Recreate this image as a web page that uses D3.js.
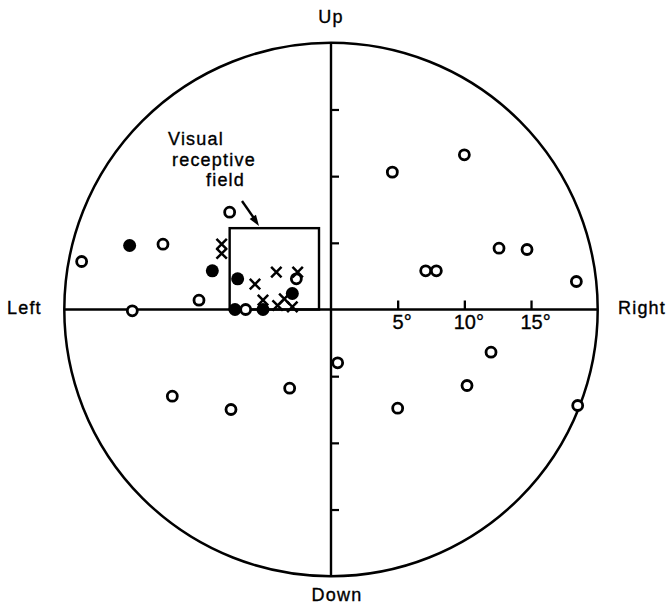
<!DOCTYPE html>
<html>
<head>
<meta charset="utf-8">
<script src="https://cdn.jsdelivr.net/npm/d3@7"></script>
<style>
  html, body { margin: 0; padding: 0; background: #fff; }
  svg { display: block; }
  text { font-family: "Liberation Sans", Arial, Helvetica, sans-serif; fill: #000; stroke: #000; stroke-width: 0.35px; }
</style>
</head>
<body>
<svg id="chart" width="666" height="607"></svg>
<script>
// Visual field positions in degrees (x: left/right, y: down/up)
const openX   = [4.6, 10.0, 12.6, 14.7, 7.1, 7.9, 18.4, 0.5, 12.0, 10.2, 5.0, 18.5, -11.9, -7.5, -3.1, -18.7, -12.6, -9.9, -14.9, -7.6, -2.6, -6.4];
const openY   = [10.3, 11.6, 4.6, 4.5, 2.9, 2.9, 2.1, -4.0, -3.2, -5.7, -7.4, -7.2, -6.5, -7.5, -5.9, 3.6, 4.9, 0.7, -0.1, 7.3, 2.3, 0.0];
const filledX = [-15.1, -8.9, -7.0, -2.9, -7.2, -5.1];
const filledY = [4.8, 2.9, 2.3, 1.2, 0.0, 0.0];
const crossX  = [-8.2, -8.2, -5.7, -4.1, -2.5, -5.1, -4.0, -3.5, -2.9];
const crossY  = [4.9, 4.2, 1.9, 2.8, 2.8, 0.7, 0.3, 0.8, 0.2];

// Visual receptive field outline (degrees)
const fieldX = [-7.6, -0.9];
const fieldY = [0, 6.1];

// Eccentricity ticks
const xTicks = [5, 10, 15];
const yTicks = [-15, -10, -5, 5, 10, 15];
const fieldRadius = 20;

const svg = d3.select("#chart");
const cx = 331, cy = 309.5, R = 266.7;

const x = d3.scaleLinear().domain([-fieldRadius, fieldRadius]).range([cx - R, cx + R]);
const y = d3.scaleLinear().domain([-fieldRadius, fieldRadius]).range([cy + R, cy - R]);

const g = svg.append("g");

// outer boundary of the field
g.append("circle")
  .attr("cx", x(0)).attr("cy", y(0))
  .attr("r", x(fieldRadius) - x(0))
  .attr("fill", "none").attr("stroke", "#000").attr("stroke-width", 2.5);

// cross-hair axes
g.append("line")
  .attr("x1", x(0)).attr("x2", x(0))
  .attr("y1", y(fieldRadius)).attr("y2", y(-fieldRadius))
  .attr("stroke", "#000").attr("stroke-width", 2.4);
g.append("line")
  .attr("x1", x(-fieldRadius)).attr("x2", x(fieldRadius))
  .attr("y1", y(0)).attr("y2", y(0))
  .attr("stroke", "#000").attr("stroke-width", 2.4);

// horizontal ticks with degree labels
const xAxis = g.append("g")
  .attr("transform", `translate(0,${y(0)})`)
  .call(d3.axisBottom(x).tickValues(xTicks).tickSize(-9).tickPadding(5).tickFormat(d => d + "°"));
xAxis.select(".domain").remove();
xAxis.selectAll(".tick line").attr("stroke", "#000").attr("stroke-width", 2.3);
xAxis.selectAll(".tick text")
  .attr("dx", 4)
  .style("font-family", "'Liberation Sans', Arial, sans-serif")
  .style("font-size", "20px")
  .attr("fill", "#000");

// vertical ticks
const yAxis = g.append("g")
  .attr("transform", `translate(${x(0)},0)`)
  .call(d3.axisRight(y).tickValues(yTicks).tickSize(8).tickFormat(""));
yAxis.select(".domain").remove();
yAxis.selectAll(".tick line").attr("stroke", "#000").attr("stroke-width", 2.2);

// receptive field rectangle
g.append("rect")
  .attr("x", x(fieldX[0])).attr("y", y(fieldY[1]))
  .attr("width", x(fieldX[1]) - x(fieldX[0]))
  .attr("height", y(fieldY[0]) - y(fieldY[1]))
  .attr("fill", "none").attr("stroke", "#000").attr("stroke-width", 2.4);

// open circles
g.selectAll("circle.open")
  .data(d3.zip(openX, openY))
  .join("circle").attr("class", "open")
  .attr("cx", d => x(d[0])).attr("cy", d => y(d[1]))
  .attr("r", 5)
  .attr("fill", "#fff").attr("stroke", "#000").attr("stroke-width", 2.8);

// filled circles
g.selectAll("circle.filled")
  .data(d3.zip(filledX, filledY))
  .join("circle").attr("class", "filled")
  .attr("cx", d => x(d[0])).attr("cy", d => y(d[1]))
  .attr("r", 6.5)
  .attr("fill", "#000");

// crosses
const s = 5.2;
g.selectAll("path.cross")
  .data(d3.zip(crossX, crossY))
  .join("path").attr("class", "cross")
  .attr("d", d => {
    const px = x(d[0]), py = y(d[1]);
    return `M${px - s},${py - s}L${px + s},${py + s}M${px + s},${py - s}L${px - s},${py + s}`;
  })
  .attr("fill", "none").attr("stroke", "#000").attr("stroke-width", 2.5);

// direction labels
const labelStyle = sel => sel
  .style("font-size", "18px")
  .style("letter-spacing", "1.2px");

g.append("text").attr("x", x(0)).attr("y", 23).attr("text-anchor", "middle").text("Up").call(labelStyle);
g.append("text").attr("x", x(0) + 6).attr("y", 601).attr("text-anchor", "middle").text("Down").call(labelStyle);
g.append("text").attr("x", 7).attr("y", 314).text("Left").call(labelStyle);
g.append("text").attr("x", 618).attr("y", 314).text("Right").call(labelStyle);

// annotation
const note = g.append("g");
note.append("text").attr("x", 168).attr("y", 145).text("Visual").call(labelStyle);
note.append("text").attr("x", 172).attr("y", 166).text("receptive").call(labelStyle);
note.append("text").attr("x", 206).attr("y", 186).text("field").call(labelStyle);

// arrow pointing to the receptive field
const ax0 = 242, ay0 = 201, ax1 = 259, ay1 = 226;
g.append("line")
  .attr("x1", ax0).attr("y1", ay0).attr("x2", ax1 - 3).attr("y2", ay1 - 5)
  .attr("stroke", "#000").attr("stroke-width", 2.4);
const ang = Math.atan2(ay1 - ay0, ax1 - ax0);
const hl = 11, hw = 3.8;
const bx = ax1 - hl * Math.cos(ang), by = ay1 - hl * Math.sin(ang);
g.append("path")
  .attr("d", `M${ax1},${ay1}L${bx - hw * Math.sin(ang)},${by + hw * Math.cos(ang)}L${bx + hw * Math.sin(ang)},${by - hw * Math.cos(ang)}Z`)
  .attr("fill", "#000");
</script>
</body>
</html>
